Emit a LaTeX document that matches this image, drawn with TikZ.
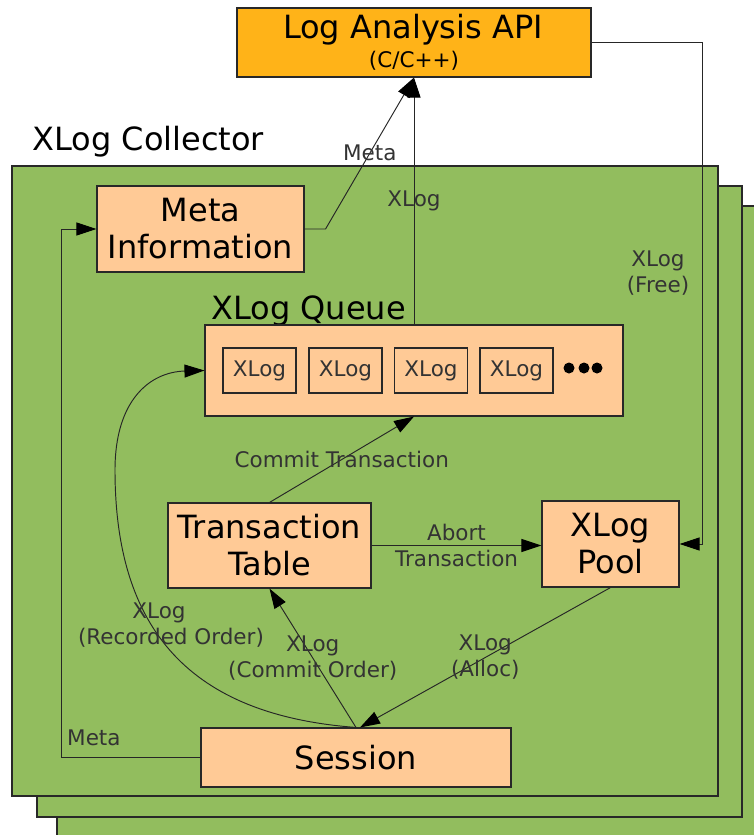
\documentclass[tikz,border=0pt]{standalone}
\usepackage{fontspec}
\setmainfont{DejaVu Sans}
\usetikzlibrary{arrows.meta,calc}
\definecolor{collgreen}{RGB}{146,189,94}
\definecolor{apiorange}{RGB}{255,179,24}
\definecolor{peach}{RGB}{255,202,150}
\definecolor{edge}{RGB}{40,40,40}
\begin{document}
\begin{tikzpicture}[x=1pt,y=-1pt,
  big/.style={font=\fontsize{32}{37}\selectfont},
  small/.style={font=\fontsize{21.5}{26}\selectfont, text=black!80},
  block/.style={draw=edge, line width=1.1pt, fill=peach, inner sep=0pt, align=center, big},
  cell/.style={draw=edge, line width=1.1pt, fill=peach, inner sep=0pt,
    minimum width=73pt, minimum height=45pt, small},
  conn/.style={draw=black!85, line width=0.95pt},
  arr/.style={conn, -{Triangle[length=20pt,width=13pt,color=black]}},
  lbl/.style={small, align=center, inner sep=0pt},
  panel/.style={fill=collgreen, draw=edge, line width=1.1pt},
  dot/.style={circle, fill=black, inner sep=0pt, minimum size=11pt}]

\useasboundingbox (0,0) rectangle (754,835);

% stacked collector panels, back to front
\path[panel] (57,206) rectangle (770,850);
\path[panel] (37,186) rectangle (742,817);
\path[panel] (12,166) rectangle (718,796);

% analysis API
\node[block, fill=apiorange, minimum width=354pt, minimum height=69pt] (api) at (414,42.5) {};
\node[anchor=base, big] (apititle) at (413,38) {Log Analysis API};
\node[anchor=base, small, text=black] (apilang) at (414,67) {(C/C++)};

\node[anchor=base west, big] (colltitle) at (29,150) {XLog Collector};

% collector components
\node[block, minimum width=207pt, minimum height=86pt] (meta) at (200.5,229) {Meta\\Information};

\node[anchor=base west, big] (qtitle) at (208,319) {XLog Queue};
\node[block, minimum width=418pt, minimum height=91pt] (queue) at (414,370.5) {};
\node[cell] (c1) at (259.5,370.5) {XLog};
\node[cell] (c2) at (345.5,370.5) {XLog};
\node[cell] (c3) at (431,370.5) {XLog};
\node[cell] (c4) at (516.5,370.5) {XLog};
\node[dot] (d1) at (569,368) {};
\node[dot] (d2) at (584,368) {};
\node[dot] (d3) at (597,368) {};

\node[block, minimum width=203pt, minimum height=85pt] (tt) at (269.5,545.5) {Transaction\\Table};
\node[block, minimum width=137pt, minimum height=86pt] (pool) at (610.5,544) {XLog\\Pool};
\node[block, minimum width=310pt, minimum height=59pt] (session) at (356,757.5) {Session};

% flows to the API
\draw[arr] (queue.north) -- node[lbl, pos=0.5] (lx) {XLog} (api.south);
\draw[arr] (meta.east) -- ++(21,0) -- node[lbl, pos=0.5] (lm) {Meta} (api.south);
\coordinate (fr) at (702,42.5);
\draw[arr] (api.east) -- (fr) |- (pool.east);
\node[lbl] (lf) at (658,273) {XLog\\(Free)};

% transaction flows
\draw[arr] (tt.north) -- node[lbl, pos=0.5] (lc) {Commit Transaction} (queue.south);
\draw[arr] (tt.east) -- node[lbl, pos=0.5] (la) {Abort\\Transaction} (tt.east -| pool.west);

% session flows
\draw[arr] (session.north) -- node[lbl, pos=0.5] (lco) {XLog\\(Commit Order)} (tt.south);
\draw[arr] (pool.south) -- node[lbl, pos=0.5] (lal) {XLog\\(Alloc)} ($(session.north)+(4,0)$);
\coordinate (bend) at (115,470);
\draw[arr] (session.north) .. controls (190,715) and (115,630) .. (bend)
  .. controls (115,400) and (150,372) .. (queue.west);
\node[lbl] (lr) at (171,625) {XLog\hspace*{24pt}\\(Recorded Order)};
\draw[arr] (session.west) -- ++(-139,0) |- (meta.west);
\node[lbl, anchor=base west] (lms) at (67,745) {Meta};
\end{tikzpicture}
\end{document}
